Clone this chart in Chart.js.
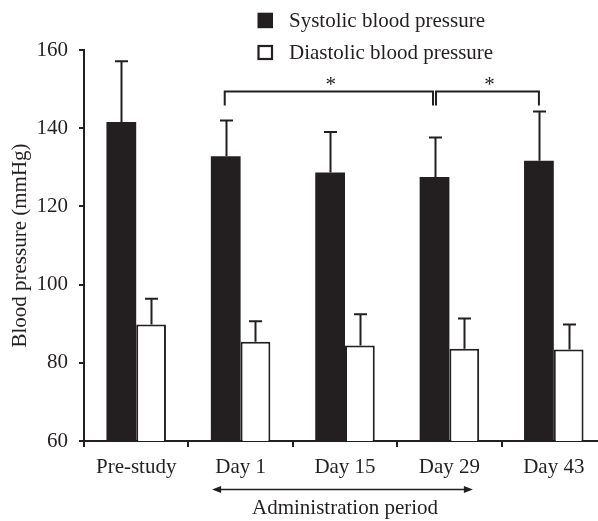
<!DOCTYPE html>
<html>
<head>
<meta charset="utf-8">
<script src="https://cdn.jsdelivr.net/npm/chart.js@4.4.1/dist/chart.umd.min.js"></script>
<style>
  html, body { margin: 0; padding: 0; background: #ffffff; overflow: hidden; }
  #wrap { width: 610px; height: 521px; }
</style>
</head>
<body>
<div id="wrap"><canvas id="c" width="610" height="521"></canvas></div>
<script>
// ---- data ----
const categories = ['Pre-study', 'Day 1', 'Day 15', 'Day 29', 'Day 43'];
const systolic = [141.6, 132.8, 128.7, 127.5, 131.7];
const systolicSD = [15.5, 9.2, 10.3, 10.1, 12.6];
const diastolic = [89.8, 85.4, 84.4, 83.6, 83.4];
const diastolicSD = [6.6, 5.2, 8.0, 7.7, 6.4];
const seriesLabels = ['Systolic blood pressure', 'Diastolic blood pressure'];
const yTicks = [60, 80, 100, 120, 140, 160];
// significance brackets (category indices)
const brackets = [
  { from: 1, to: 3, label: '*' },
  { from: 3, to: 4, label: '*' }
];
const periodLabel = 'Administration period';
const periodRange = [1, 3];

const INK = '#231f20';
const FONT = "'Liberation Serif', 'Times New Roman', serif";

const errorBarPlugin = {
  id: 'errorBars',
  afterDatasetsDraw(chart) {
    const ctx = chart.ctx;
    const y = chart.scales.y;
    const sds = [systolicSD, diastolicSD];
    ctx.save();
    ctx.strokeStyle = INK;
    ctx.lineWidth = 2;
    chart.data.datasets.forEach((ds, i) => {
      const meta = chart.getDatasetMeta(i);
      meta.data.forEach((bar, j) => {
        const top = y.getPixelForValue(ds.data[j] + sds[i][j]);
        const x = Math.round(bar.x) + 0.5;
        ctx.beginPath();
        ctx.moveTo(x, bar.y);
        ctx.lineTo(x, top);
        ctx.moveTo(x - 6.5, top);
        ctx.lineTo(x + 6.5, top);
        ctx.stroke();
      });
    });
    ctx.restore();
  }
};

const annotationPlugin = {
  id: 'annotations',
  afterDraw(chart) {
    const ctx = chart.ctx;
    const y = chart.scales.y;
    const xs = chart.scales.x;
    const meta0 = chart.getDatasetMeta(0);
    ctx.save();
    ctx.strokeStyle = INK;
    ctx.fillStyle = INK;
    ctx.lineWidth = 2;
    // brackets
    const lineY = y.getPixelForValue(149.4);
    const legY = y.getPixelForValue(145.8);
    const starY = y.getPixelForValue(151.8);
    brackets.forEach((b, k) => {
      let x1 = meta0.data[b.from].x;
      let x2 = meta0.data[b.to].x;
      if (k > 0) x1 += 1.5; else x1 -= 1;
      if (k < brackets.length - 1) x2 -= 1.5;
      ctx.beginPath();
      ctx.moveTo(x1, legY);
      ctx.lineTo(x1, lineY);
      ctx.lineTo(x2, lineY);
      ctx.lineTo(x2, legY);
      ctx.stroke();
      ctx.font = '21px ' + FONT;
      ctx.textAlign = 'center';
      ctx.textBaseline = 'middle';
      ctx.fillText(b.label, (x1 + x2) / 2 + 2, starY + 3);
    });
    // administration period arrow
    const ax1 = xs.getPixelForValue(periodRange[0]) - 28.5;
    const ax2 = xs.getPixelForValue(periodRange[1]) + 23.5;
    const ay = 489.5;
    ctx.lineWidth = 1.5;
    ctx.beginPath();
    ctx.moveTo(ax1 + 6, ay);
    ctx.lineTo(ax2 - 6, ay);
    ctx.stroke();
    ctx.beginPath();
    ctx.moveTo(ax1, ay);
    ctx.lineTo(ax1 + 9, ay - 3.5);
    ctx.lineTo(ax1 + 9, ay + 3.5);
    ctx.closePath();
    ctx.fill();
    ctx.beginPath();
    ctx.moveTo(ax2, ay);
    ctx.lineTo(ax2 - 9, ay - 3.5);
    ctx.lineTo(ax2 - 9, ay + 3.5);
    ctx.closePath();
    ctx.fill();
    // legend
    ctx.font = '21px ' + FONT;
    ctx.textAlign = 'left';
    ctx.textBaseline = 'alphabetic';
    const items = chart.data.datasets;
    const rows = [{ sq: 12.7, base: 27 }, { sq: 45, base: 58.5 }];
    items.forEach((ds, i) => {
      const r = rows[i];
      if (i === 0) {
        ctx.fillStyle = ds.backgroundColor;
        ctx.fillRect(257.5, r.sq, 15.5, 15.5);
      } else {
        ctx.strokeStyle = INK;
        ctx.lineWidth = 2.2;
        ctx.strokeRect(258.5, r.sq + 1, 13.5, 13);
      }
      ctx.fillStyle = INK;
      ctx.fillText(ds.label, 289, r.base);
    });
    ctx.restore();
  }
};

new Chart(document.getElementById('c'), {
  type: 'bar',
  data: {
    labels: categories,
    datasets: [
      {
        label: seriesLabels[0],
        data: systolic,
        backgroundColor: INK,
        borderWidth: 0
      },
      {
        label: seriesLabels[1],
        data: diastolic,
        backgroundColor: '#ffffff',
        borderColor: INK,
        borderWidth: { top: 2, right: 2, left: 2, bottom: 0 },
        borderSkipped: false
      }
    ]
  },
  options: {
    responsive: false,
    animation: false,
    devicePixelRatio: 1,
    layout: { padding: { top: 50, right: 4, bottom: 0, left: 0 } },
    datasets: { bar: { categoryPercentage: 0.57, barPercentage: 1.0 } },
    plugins: {
      legend: { display: false },
      tooltip: { enabled: false }
    },
    scales: {
      x: {
        offset: true,
        grid: { display: true, offset: true, drawOnChartArea: false, drawTicks: true, tickLength: 6, color: INK, lineWidth: 2 },
        border: { display: true, color: INK, width: 2 },
        ticks: { color: INK, font: { family: FONT, size: 21 }, padding: 8, maxRotation: 0 },
        title: { display: true, text: periodLabel, color: INK, font: { family: FONT, size: 21 }, padding: { top: 0, bottom: 0 } },
        afterFit(scale) { scale.height = 80; }
      },
      y: {
        min: 60,
        max: 160,
        afterBuildTicks(scale) { scale.ticks = yTicks.map(v => ({ value: v })); },
        grid: { display: true, drawOnChartArea: false, drawTicks: true, tickLength: 5, color: INK, lineWidth: 2 },
        border: { display: true, color: INK, width: 2 },
        ticks: { color: INK, font: { family: FONT, size: 21 }, padding: 11 },
        title: { display: true, text: 'Blood pressure (mmHg)', color: INK, font: { family: FONT, size: 21 }, padding: { top: 8, bottom: 0 } },
        afterFit(scale) { scale.width = 84; }
      }
    }
  },
  plugins: [errorBarPlugin, annotationPlugin]
});
</script>
</body>
</html>
